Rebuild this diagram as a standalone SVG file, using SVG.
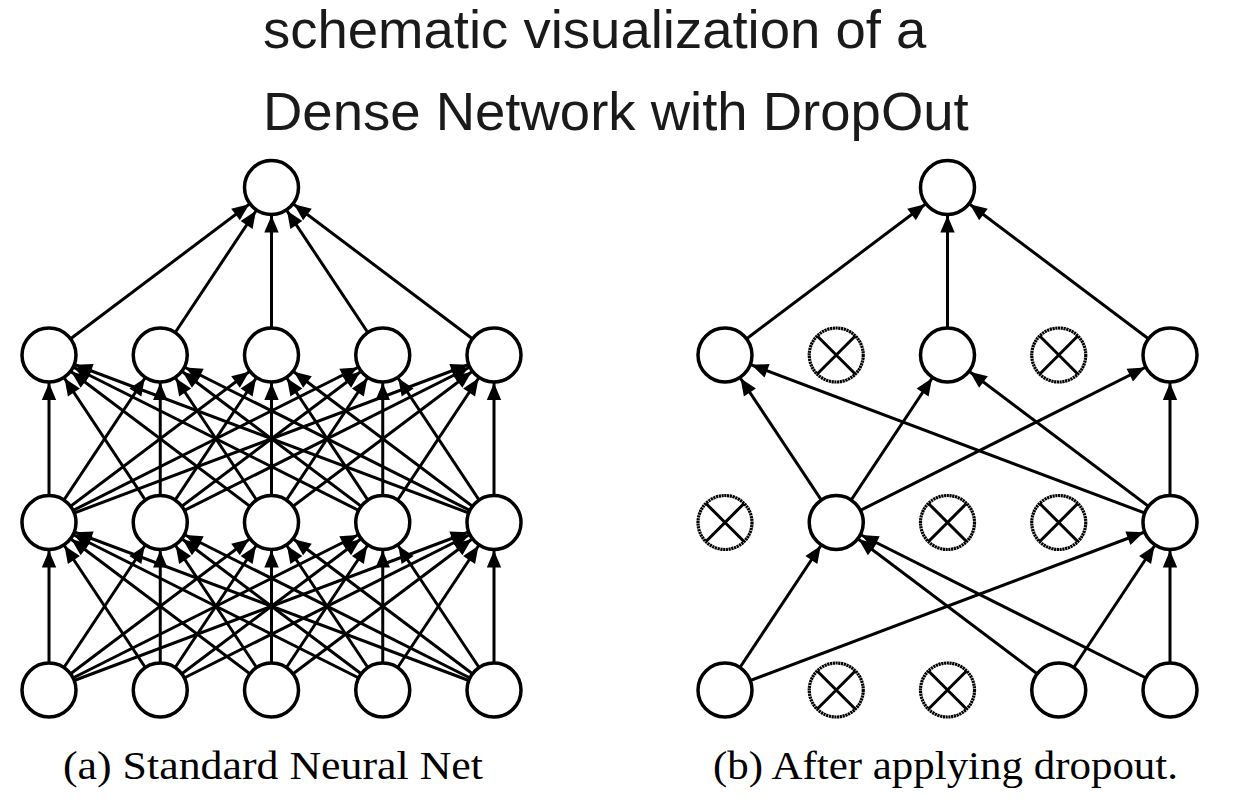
<svg xmlns="http://www.w3.org/2000/svg" width="1252" height="804" viewBox="0 0 1252 804">
<defs>
<style>
.title{font-family:"Liberation Sans",Arial,Helvetica,sans-serif;font-size:54.5px;fill:#1a1a1a}
.cap{font-family:"Liberation Serif","Times New Roman",serif;font-size:41px;fill:#000}
.e{stroke:#000;stroke-width:3;fill:none;marker-end:url(#ah)}
.n{fill:#fff;stroke:#000;stroke-width:3.5}
.d{fill:#fff;stroke:#000;stroke-width:3.2;stroke-dasharray:2.2 0.6}
.x{stroke:#000;stroke-width:3;fill:none}
</style>
<marker id="ah" markerUnits="userSpaceOnUse" viewBox="-50 -10 60 20" markerWidth="60" markerHeight="20" refX="0" refY="0" orient="auto" overflow="visible">
<path d="M-45-7.2L-28 0L-45 7.2Z" fill="#000"/>
</marker>
</defs>
<rect width="1252" height="804" fill="#fff"/>
<g id="title">
<text class="title" x="263" y="48">schematic visualization of a</text>
<text class="title" x="263" y="130">Dense Network with DropOut</text>
</g>
<g id="connectors">
<!-- (a) input -> hidden1 -->
<line class="e" x1="49" y1="690" x2="49" y2="522.5"/>
<line class="e" x1="49" y1="690" x2="160.25" y2="522.5"/>
<line class="e" x1="49" y1="690" x2="271.5" y2="522.5"/>
<line class="e" x1="49" y1="690" x2="382.75" y2="522.5"/>
<line class="e" x1="49" y1="690" x2="494" y2="522.5"/>
<line class="e" x1="160.25" y1="690" x2="49" y2="522.5"/>
<line class="e" x1="160.25" y1="690" x2="160.25" y2="522.5"/>
<line class="e" x1="160.25" y1="690" x2="271.5" y2="522.5"/>
<line class="e" x1="160.25" y1="690" x2="382.75" y2="522.5"/>
<line class="e" x1="160.25" y1="690" x2="494" y2="522.5"/>
<line class="e" x1="271.5" y1="690" x2="49" y2="522.5"/>
<line class="e" x1="271.5" y1="690" x2="160.25" y2="522.5"/>
<line class="e" x1="271.5" y1="690" x2="271.5" y2="522.5"/>
<line class="e" x1="271.5" y1="690" x2="382.75" y2="522.5"/>
<line class="e" x1="271.5" y1="690" x2="494" y2="522.5"/>
<line class="e" x1="382.75" y1="690" x2="49" y2="522.5"/>
<line class="e" x1="382.75" y1="690" x2="160.25" y2="522.5"/>
<line class="e" x1="382.75" y1="690" x2="271.5" y2="522.5"/>
<line class="e" x1="382.75" y1="690" x2="382.75" y2="522.5"/>
<line class="e" x1="382.75" y1="690" x2="494" y2="522.5"/>
<line class="e" x1="494" y1="690" x2="49" y2="522.5"/>
<line class="e" x1="494" y1="690" x2="160.25" y2="522.5"/>
<line class="e" x1="494" y1="690" x2="271.5" y2="522.5"/>
<line class="e" x1="494" y1="690" x2="382.75" y2="522.5"/>
<line class="e" x1="494" y1="690" x2="494" y2="522.5"/>
<!-- (a) hidden1 -> hidden2 -->
<line class="e" x1="49" y1="522.5" x2="49" y2="355"/>
<line class="e" x1="49" y1="522.5" x2="160.25" y2="355"/>
<line class="e" x1="49" y1="522.5" x2="271.5" y2="355"/>
<line class="e" x1="49" y1="522.5" x2="382.75" y2="355"/>
<line class="e" x1="49" y1="522.5" x2="494" y2="355"/>
<line class="e" x1="160.25" y1="522.5" x2="49" y2="355"/>
<line class="e" x1="160.25" y1="522.5" x2="160.25" y2="355"/>
<line class="e" x1="160.25" y1="522.5" x2="271.5" y2="355"/>
<line class="e" x1="160.25" y1="522.5" x2="382.75" y2="355"/>
<line class="e" x1="160.25" y1="522.5" x2="494" y2="355"/>
<line class="e" x1="271.5" y1="522.5" x2="49" y2="355"/>
<line class="e" x1="271.5" y1="522.5" x2="160.25" y2="355"/>
<line class="e" x1="271.5" y1="522.5" x2="271.5" y2="355"/>
<line class="e" x1="271.5" y1="522.5" x2="382.75" y2="355"/>
<line class="e" x1="271.5" y1="522.5" x2="494" y2="355"/>
<line class="e" x1="382.75" y1="522.5" x2="49" y2="355"/>
<line class="e" x1="382.75" y1="522.5" x2="160.25" y2="355"/>
<line class="e" x1="382.75" y1="522.5" x2="271.5" y2="355"/>
<line class="e" x1="382.75" y1="522.5" x2="382.75" y2="355"/>
<line class="e" x1="382.75" y1="522.5" x2="494" y2="355"/>
<line class="e" x1="494" y1="522.5" x2="49" y2="355"/>
<line class="e" x1="494" y1="522.5" x2="160.25" y2="355"/>
<line class="e" x1="494" y1="522.5" x2="271.5" y2="355"/>
<line class="e" x1="494" y1="522.5" x2="382.75" y2="355"/>
<line class="e" x1="494" y1="522.5" x2="494" y2="355"/>
<!-- (a) hidden2 -> output -->
<line class="e" x1="49" y1="355" x2="271.5" y2="187.5"/>
<line class="e" x1="160.25" y1="355" x2="271.5" y2="187.5"/>
<line class="e" x1="271.5" y1="355" x2="271.5" y2="187.5"/>
<line class="e" x1="382.75" y1="355" x2="271.5" y2="187.5"/>
<line class="e" x1="494" y1="355" x2="271.5" y2="187.5"/>
<!-- (b) input -> hidden1 -->
<line class="e" x1="725" y1="690" x2="836.25" y2="522.5"/>
<line class="e" x1="725" y1="690" x2="1170" y2="522.5"/>
<line class="e" x1="1058.75" y1="690" x2="836.25" y2="522.5"/>
<line class="e" x1="1058.75" y1="690" x2="1170" y2="522.5"/>
<line class="e" x1="1170" y1="690" x2="836.25" y2="522.5"/>
<line class="e" x1="1170" y1="690" x2="1170" y2="522.5"/>
<!-- (b) hidden1 -> hidden2 -->
<line class="e" x1="836.25" y1="522.5" x2="725" y2="355"/>
<line class="e" x1="836.25" y1="522.5" x2="947.5" y2="355"/>
<line class="e" x1="836.25" y1="522.5" x2="1170" y2="355"/>
<line class="e" x1="1170" y1="522.5" x2="725" y2="355"/>
<line class="e" x1="1170" y1="522.5" x2="947.5" y2="355"/>
<line class="e" x1="1170" y1="522.5" x2="1170" y2="355"/>
<!-- (b) hidden2 -> output -->
<line class="e" x1="725" y1="355" x2="947.5" y2="187.5"/>
<line class="e" x1="947.5" y1="355" x2="947.5" y2="187.5"/>
<line class="e" x1="1170" y1="355" x2="947.5" y2="187.5"/>
</g>
<g id="net-a">
<g id="a-out"><circle class="n" cx="271.5" cy="187.5" r="27"/></g>
<g id="a-h2-0"><circle class="n" cx="49" cy="355" r="27"/></g>
<g id="a-h2-1"><circle class="n" cx="160.25" cy="355" r="27"/></g>
<g id="a-h2-2"><circle class="n" cx="271.5" cy="355" r="27"/></g>
<g id="a-h2-3"><circle class="n" cx="382.75" cy="355" r="27"/></g>
<g id="a-h2-4"><circle class="n" cx="494" cy="355" r="27"/></g>
<g id="a-h1-0"><circle class="n" cx="49" cy="522.5" r="27"/></g>
<g id="a-h1-1"><circle class="n" cx="160.25" cy="522.5" r="27"/></g>
<g id="a-h1-2"><circle class="n" cx="271.5" cy="522.5" r="27"/></g>
<g id="a-h1-3"><circle class="n" cx="382.75" cy="522.5" r="27"/></g>
<g id="a-h1-4"><circle class="n" cx="494" cy="522.5" r="27"/></g>
<g id="a-in-0"><circle class="n" cx="49" cy="690" r="27"/></g>
<g id="a-in-1"><circle class="n" cx="160.25" cy="690" r="27"/></g>
<g id="a-in-2"><circle class="n" cx="271.5" cy="690" r="27"/></g>
<g id="a-in-3"><circle class="n" cx="382.75" cy="690" r="27"/></g>
<g id="a-in-4"><circle class="n" cx="494" cy="690" r="27"/></g>
</g>
<g id="net-b">
<g id="b-out"><circle class="n" cx="947.5" cy="187.5" r="27"/></g>
<g id="b-h2-0"><circle class="n" cx="725" cy="355" r="27"/></g>
<g id="b-h2-1" transform="translate(836.25 355)"><circle class="d" r="27"/><path class="x" d="M-19-19L19 19M-19 19L19-19"/></g>
<g id="b-h2-2"><circle class="n" cx="947.5" cy="355" r="27"/></g>
<g id="b-h2-3" transform="translate(1058.75 355)"><circle class="d" r="27"/><path class="x" d="M-19-19L19 19M-19 19L19-19"/></g>
<g id="b-h2-4"><circle class="n" cx="1170" cy="355" r="27"/></g>
<g id="b-h1-0" transform="translate(725 522.5)"><circle class="d" r="27"/><path class="x" d="M-19-19L19 19M-19 19L19-19"/></g>
<g id="b-h1-1"><circle class="n" cx="836.25" cy="522.5" r="27"/></g>
<g id="b-h1-2" transform="translate(947.5 522.5)"><circle class="d" r="27"/><path class="x" d="M-19-19L19 19M-19 19L19-19"/></g>
<g id="b-h1-3" transform="translate(1058.75 522.5)"><circle class="d" r="27"/><path class="x" d="M-19-19L19 19M-19 19L19-19"/></g>
<g id="b-h1-4"><circle class="n" cx="1170" cy="522.5" r="27"/></g>
<g id="b-in-0"><circle class="n" cx="725" cy="690" r="27"/></g>
<g id="b-in-1" transform="translate(836.25 690)"><circle class="d" r="27"/><path class="x" d="M-19-19L19 19M-19 19L19-19"/></g>
<g id="b-in-2" transform="translate(947.5 690)"><circle class="d" r="27"/><path class="x" d="M-19-19L19 19M-19 19L19-19"/></g>
<g id="b-in-3"><circle class="n" cx="1058.75" cy="690" r="27"/></g>
<g id="b-in-4"><circle class="n" cx="1170" cy="690" r="27"/></g>
</g>
<g id="captions">
<text class="cap" x="63" y="779" textLength="420" lengthAdjust="spacingAndGlyphs">(a) Standard Neural Net</text>
<text class="cap" x="713" y="779" textLength="465" lengthAdjust="spacingAndGlyphs">(b) After applying dropout.</text>
</g>
</svg>
